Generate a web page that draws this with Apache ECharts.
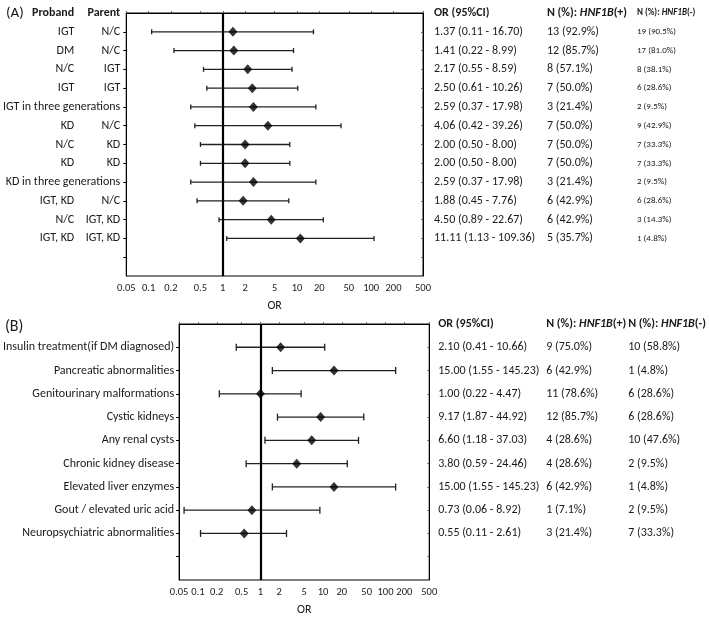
<!DOCTYPE html>
<html><head><meta charset="utf-8">
<script src="https://cdn.jsdelivr.net/npm/echarts@6/dist/echarts.min.js"></script>
<style>html,body{margin:0;padding:0;background:#fff}#c{width:709px;height:617px}</style>
</head><body><div id="c"></div>
<script>
// ---------- Panel A data ----------
const probandA = ['IGT','DM','N/C','IGT',null,'KD','N/C','KD',null,'IGT, KD','N/C','IGT, KD'];
const parentA  = ['N/C','N/C','IGT','IGT',null,'N/C','KD','KD',null,'N/C','IGT, KD','IGT, KD'];
const fullRowA = [null,null,null,null,'IGT in three generations',null,null,null,'KD in three generations',null,null,null];
const orA  = [1.37,1.41,2.17,2.50,2.59,4.06,2.00,2.00,2.59,1.88,4.50,11.11];
const loA  = [0.11,0.22,0.55,0.61,0.37,0.42,0.50,0.50,0.37,0.45,0.89,1.13];
const hiA  = [16.70,8.99,8.59,10.26,17.98,39.26,8.00,8.00,17.98,7.76,22.67,109.36];
const posA = ['13 (92.9%)','12 (85.7%)','8 (57.1%)','7 (50.0%)','3 (21.4%)','7 (50.0%)','7 (50.0%)','7 (50.0%)','3 (21.4%)','6 (42.9%)','6 (42.9%)','5 (35.7%)'];
const negA = ['19 (90.5%)','17 (81.0%)','8 (38.1%)','6 (28.6%)','2 (9.5%)','9 (42.9%)','7 (33.3%)','7 (33.3%)','2 (9.5%)','6 (28.6%)','3 (14.3%)','1 (4.8%)'];

// ---------- Panel B data ----------
const labelsB = ['Insulin treatment(if DM diagnosed)','Pancreatic abnormalities','Genitourinary malformations','Cystic kidneys','Any renal cysts','Chronic kidney disease','Elevated liver enzymes','Gout / elevated uric acid','Neuropsychiatric abnormalities'];
const orB  = [2.10,15.00,1.00,9.17,6.60,3.80,15.00,0.73,0.55];
const loB  = [0.41,1.55,0.22,1.87,1.18,0.59,1.55,0.06,0.11];
const hiB  = [10.66,145.23,4.47,44.92,37.03,24.46,145.23,8.92,2.61];
const posB = ['9 (75.0%)','6 (42.9%)','11 (78.6%)','12 (85.7%)','4 (28.6%)','4 (28.6%)','6 (42.9%)','1 (7.1%)','3 (21.4%)'];
const negB = ['10 (58.8%)','1 (4.8%)','6 (28.6%)','6 (28.6%)','10 (47.6%)','2 (9.5%)','1 (4.8%)','2 (9.5%)','7 (33.3%)'];

const xTicks = [0.05,0.1,0.2,0.5,1,2,5,10,20,50,100,200,500];

const FONT = "Carlito, Lato, 'Open Sans', sans-serif";
const TXT = '#1a1a1a';
const chart = echarts.init(document.getElementById('c'));

const ciText = (o,l,h) => o.toFixed(2)+' ('+l.toFixed(2)+' - '+h.toFixed(2)+')';

function rowLabel(arr, header) {
  return function (v) {
    if (v === 0) return header;
    const i = v - 1;
    if (i >= 0 && i < arr.length && arr[i] != null) return arr[i];
    return '';
  };
}

const nA = orA.length, nB = orB.length;
const maxA = nA + 2, maxB = nB + 2;
const rowsA = Array.from({length: nA + 1}, (_, i) => i + 1);
const rowsB = Array.from({length: nB + 1}, (_, i) => i + 1);

function baseY(grid, max, extra) {
  return Object.assign({
    type: 'value', gridIndex: grid, inverse: true, min: 0, max: max, interval: 1,
    splitLine: {show: false},
    axisLine: {show: false},
    axisTick: {show: false},
  }, extra);
}
const hdr = (t) => '{h|' + t + '}';
const richBase = (size) => ({
  h: {fontWeight: 'bold', fontSize: size, fontFamily: FONT, color: TXT},
  hi: {fontWeight: 'bold', fontStyle: 'italic', fontSize: size, fontFamily: FONT, color: TXT},
});

const leftColA_parent = parentA.map((p, i) => fullRowA[i] ? fullRowA[i] : p);

const yAxes = [
  // Panel A, primary left axis (Parent column + full rows)
  baseY(0, maxA, {
    position: 'left', offset: 0,
    axisLine: {show: true, lineStyle: {color: '#000', width: 1}},
    axisTick: {show: true, inside: false, length: 3, customValues: rowsA, lineStyle: {color: '#000'}},
    axisLabel: {show: true, margin: 6, fontSize: 12, fontFamily: FONT, color: TXT, showMinLabel: true, showMaxLabel: true,
      formatter: rowLabel(leftColA_parent, hdr('Parent')), rich: richBase(12)}
  }),
  // Panel A, Proband column
  baseY(0, maxA, {
    position: 'left', offset: 46,
    axisLabel: {show: true, margin: 6, fontSize: 12, fontFamily: FONT, color: TXT, showMinLabel: true, showMaxLabel: true,
      formatter: rowLabel(probandA, hdr('Proband')), rich: richBase(12)}
  }),
  // Panel A, right table: OR (95%CI)
  baseY(0, maxA, {
    position: 'right', offset: 0,
    axisLine: {show: true, lineStyle: {color: '#000', width: 1}},
    axisTick: {show: true, inside: true, length: 2, customValues: rowsA, lineStyle: {color: '#666'}},
    axisLabel: {show: true, margin: 11, align: 'left', fontSize: 12, fontFamily: FONT, color: TXT, showMinLabel: true, showMaxLabel: true,
      formatter: rowLabel(orA.map((o,i) => ciText(o, loA[i], hiA[i])), hdr('OR (95%CI)')), rich: richBase(12)}
  }),
  baseY(0, maxA, {
    position: 'right', offset: 113,
    axisLabel: {show: true, margin: 11, align: 'left', fontSize: 12, fontFamily: FONT, color: TXT, showMinLabel: true, showMaxLabel: true,
      formatter: rowLabel(posA, '{h|N (%): }{hi|HNF1B}{h|(+)}'), rich: richBase(12)}
  }),
  baseY(0, maxA, {
    position: 'right', offset: 203,
    axisLabel: {show: true, margin: 11, align: 'left', fontSize: 9, fontFamily: FONT, color: TXT, showMinLabel: true, showMaxLabel: true,
      formatter: rowLabel(negA, '{h|N (%): }{hi|HNF1B}{h|(-)}'), rich: richBase(9)}
  }),
  // Panel B left
  baseY(1, maxB, {
    position: 'left', offset: 0,
    axisLine: {show: true, lineStyle: {color: '#000', width: 1}},
    axisTick: {show: true, inside: false, length: 3, customValues: rowsB, lineStyle: {color: '#000'}},
    axisLabel: {show: true, margin: 5, fontSize: 12, fontFamily: FONT, color: TXT, showMinLabel: true, showMaxLabel: true,
      formatter: rowLabel(labelsB, ''), rich: richBase(12)}
  }),
  baseY(1, maxB, {
    position: 'right', offset: 0,
    axisLine: {show: true, lineStyle: {color: '#000', width: 1}},
    axisTick: {show: true, inside: true, length: 2, customValues: rowsB, lineStyle: {color: '#666'}},
    axisLabel: {show: true, margin: 9, align: 'left', fontSize: 12, fontFamily: FONT, color: TXT, showMinLabel: true, showMaxLabel: true,
      formatter: rowLabel(orB.map((o,i) => ciText(o, loB[i], hiB[i])), hdr('OR (95%CI)')), rich: richBase(12)}
  }),
  baseY(1, maxB, {
    position: 'right', offset: 108,
    axisLabel: {show: true, margin: 9, align: 'left', fontSize: 12, fontFamily: FONT, color: TXT, showMinLabel: true, showMaxLabel: true,
      formatter: rowLabel(posB, '{h|N (%): }{hi|HNF1B}{h|(+)}'), rich: richBase(12)}
  }),
  baseY(1, maxB, {
    position: 'right', offset: 190,
    axisLabel: {show: true, margin: 9, align: 'left', fontSize: 12, fontFamily: FONT, color: TXT, showMinLabel: true, showMaxLabel: true,
      formatter: rowLabel(negB, '{h|N (%): }{hi|HNF1B}{h|(-)}'), rich: richBase(12)}
  }),
];

function xAxisFor(grid) {
  return {
    type: 'log', logBase: 10, gridIndex: grid, min: 0.05, max: 500,
    name: 'OR', nameLocation: 'middle', nameGap: 24,
    nameTextStyle: {fontSize: 12, fontFamily: FONT, color: TXT},
    axisLine: {show: true, lineStyle: {color: '#000', width: 1}},
    axisTick: {show: true, inside: true, length: 2, customValues: xTicks, lineStyle: {color: '#666'}},
    axisLabel: {margin: 7, fontSize: 10.5, fontFamily: FONT, color: TXT, customValues: xTicks,
      formatter: v => String(+v.toPrecision(3)), showMinLabel: true, showMaxLabel: true},
    splitLine: {show: false}, minorTick: {show: false}
  };
}

function errRender(cap) {
  return function (params, api) {
    const y = api.value(2);
    const p1 = api.coord([api.value(0), y]);
    const p2 = api.coord([api.value(1), y]);
    const st = {stroke: '#222', lineWidth: 1.3};
    return {type: 'group', children: [
      {type: 'line', shape: {x1: p1[0], y1: p1[1], x2: p2[0], y2: p2[1]}, style: st},
      {type: 'line', shape: {x1: p1[0], y1: p1[1] - cap, x2: p1[0], y2: p1[1] + cap}, style: st},
      {type: 'line', shape: {x1: p2[0], y1: p2[1] - cap, x2: p2[0], y2: p2[1] + cap}, style: st},
    ]};
  };
}

const refLine = {
  silent: true, symbol: ['none', 'none'], label: {show: false},
  lineStyle: {color: '#000', width: 2.2, type: 'solid'},
  data: [{xAxis: 1}]
};

chart.setOption({
  animation: false,
  backgroundColor: '#fff',
  textStyle: {fontFamily: FONT},
  title: [
    {text: '(A)', left: 1, top: 1, textStyle: {fontSize: 15, fontWeight: 'normal', fontFamily: FONT, color: TXT}},
    {text: '(B)', left: 0, top: 314, textStyle: {fontSize: 16, fontWeight: 'normal', fontFamily: FONT, color: TXT}},
  ],
  grid: [
    {left: 124, top: 13, width: 299, height: 263, show: true, borderColor: '#000', borderWidth: 1, backgroundColor: 'transparent'},
    {left: 160, top: 324, width: 278, height: 266, show: true, borderColor: '#000', borderWidth: 1, backgroundColor: 'transparent'},
  ],
  xAxis: [xAxisFor(0), xAxisFor(1)],
  yAxis: yAxes,
  series: [
    {type: 'custom', xAxisIndex: 0, yAxisIndex: 0, renderItem: errRender(2.5), encode: {x: [0, 1], y: 2},
      data: loA.map((l, i) => [l, hiA[i], i + 1]), z: 3},
    {type: 'scatter', xAxisIndex: 0, yAxisIndex: 0, symbol: 'diamond', symbolSize: [9, 10],
      itemStyle: {color: '#000'}, data: orA.map((o, i) => [o, i + 1]), z: 5, markLine: refLine},
    {type: 'custom', xAxisIndex: 1, yAxisIndex: 5, renderItem: errRender(3.5), encode: {x: [0, 1], y: 2},
      data: loB.map((l, i) => [l, hiB[i], i + 1]), z: 3},
    {type: 'scatter', xAxisIndex: 1, yAxisIndex: 5, symbol: 'diamond', symbolSize: [9, 10],
      itemStyle: {color: '#000'}, data: orB.map((o, i) => [o, i + 1]), z: 5, markLine: refLine},
  ]
});
</script></body></html>
